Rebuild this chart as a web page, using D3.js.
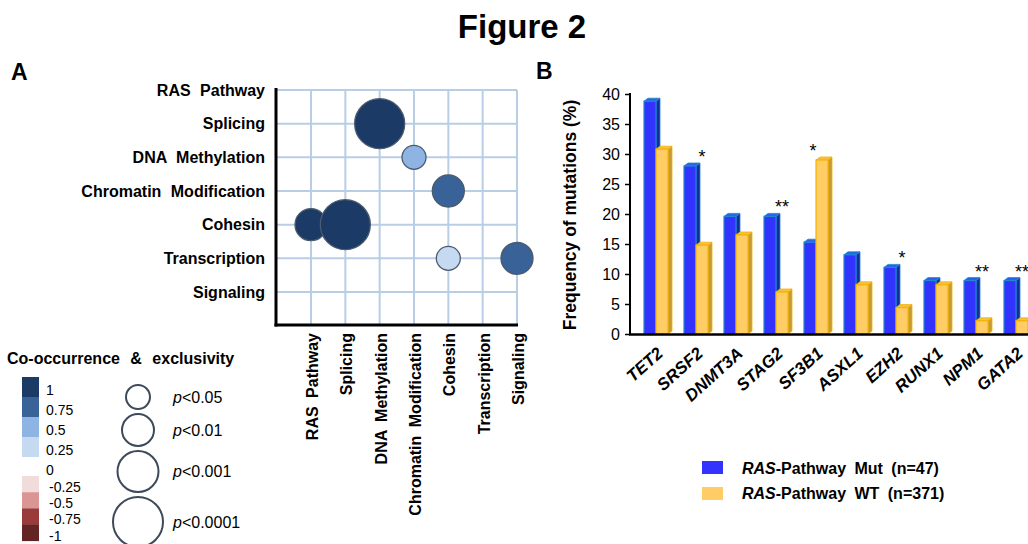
<!DOCTYPE html>
<html>
<head>
<meta charset="utf-8">
<script src="https://cdn.jsdelivr.net/npm/d3@7"></script>
<style>
  body { margin: 0; background: #fff; }
  svg { display: block; }
  text { font-family: "Liberation Sans", Arial, Helvetica, sans-serif; fill: #000; }
</style>
</head>
<body>
<svg id="fig" width="1028" height="544"></svg>
<script>
// ---------- Panel A: pathway co-occurrence / exclusivity ----------
const pathways = ["RAS Pathway", "Splicing", "DNA Methylation", "Chromatin Modification",
                  "Cohesin", "Transcription", "Signaling"];
const pairRow   = ["Splicing", "DNA Methylation", "Chromatin Modification", "Cohesin", "Cohesin", "Transcription", "Transcription"];
const pairCol   = ["DNA Methylation", "Chromatin Modification", "Cohesin", "RAS Pathway", "Splicing", "Cohesin", "Signaling"];
const pairScore = [1, 0.5, 0.75, 1, 1, 0.25, 0.75];
const pairP     = [0.0001, 0.05, 0.01, 0.01, 0.0001, 0.05, 0.01];

const scoreLevels = [1, 0.75, 0.5, 0.25, 0, -0.25, -0.5, -0.75, -1];
const scoreColors = ["#1b3a66", "#386298", "#8eb4e3", "#c5d9f1", "#ffffff",
                     "#f2dcdb", "#d99694", "#9b3a3a", "#632523"];
const pLevels = [0.05, 0.01, 0.001, 0.0001];
const pLabels = ["0.05", "0.01", "0.001", "0.0001"];

// ---------- Panel B: mutation frequencies by RAS-pathway status ----------
const genes   = ["TET2", "SRSF2", "DNMT3A", "STAG2", "SF3B1", "ASXL1", "EZH2", "RUNX1", "NPM1", "GATA2"];
const mutFreq = [38.8, 28.0, 19.6, 19.6, 15.3, 13.2, 11.1, 8.9, 8.9, 8.9];
const wtFreq  = [30.8, 14.8, 16.5, 7.0, 29.0, 8.2, 4.4, 8.2, 2.2, 2.2];
const sigGenes = ["SRSF2", "STAG2", "SF3B1", "EZH2", "NPM1", "GATA2"];
const sigMarks = ["*", "**", "*", "*", "**", "**"];
const yTicks = [0, 5, 10, 15, 20, 25, 30, 35, 40];
const seriesKeys = ["mut", "wt"];
const seriesLabels = ["Mut (n=47)", "WT (n=371)"];

const FONT = '"Liberation Sans", Arial, Helvetica, sans-serif';
const svg = d3.select("#fig");

// Figure title and panel letters
svg.append("text").attr("x", 522).attr("y", 38).attr("text-anchor", "middle")
  .style("font-size", "33px").style("font-weight", "bold").text("Figure 2");
svg.append("text").attr("x", 11).attr("y", 80)
  .style("font-size", "23px").style("font-weight", "bold").text("A");
svg.append("text").attr("x", 536).attr("y", 79)
  .style("font-size", "23px").style("font-weight", "bold").text("B");

// ===== Panel A =====
const gA = svg.append("g");
const axL = 276, axB = 325;
const xA = d3.scalePoint().domain(pathways).range([311, 517]);
const yA = d3.scalePoint().domain(pathways).range([90, 292]);
const colorA = d3.scaleOrdinal().domain(scoreLevels).range(scoreColors);
const rA = d3.scaleOrdinal().domain(pLevels).range([12, 16, 20.5, 25]);

// grid
const gridColor = "#b9cde5";
gA.selectAll("line.v").data(pathways).join("line").attr("class", "v")
  .attr("x1", d => xA(d)).attr("x2", d => xA(d)).attr("y1", 90).attr("y2", axB)
  .attr("stroke", gridColor).attr("stroke-width", 2);
gA.selectAll("line.h").data(pathways).join("line").attr("class", "h")
  .attr("y1", d => yA(d)).attr("y2", d => yA(d)).attr("x1", axL).attr("x2", 517)
  .attr("stroke", gridColor).attr("stroke-width", 2);
// axes
gA.append("line").attr("x1", axL).attr("x2", axL).attr("y1", 88).attr("y2", axB + 1.5)
  .attr("stroke", "#000").attr("stroke-width", 3);
gA.append("line").attr("x1", axL - 1.5).attr("x2", 518).attr("y1", axB).attr("y2", axB)
  .attr("stroke", "#000").attr("stroke-width", 3);

// row labels
gA.selectAll("text.row").data(pathways).join("text").attr("class", "row")
  .attr("x", 265).attr("y", d => yA(d)).attr("dy", "0.36em").attr("text-anchor", "end")
  .style("font-size", "16px").style("font-weight", "bold").style("word-spacing", "5px")
  .text(d => d);
// column labels
gA.selectAll("text.col").data(pathways).join("text").attr("class", "col")
  .attr("transform", d => `translate(${xA(d) + 7},333) rotate(-90)`)
  .attr("text-anchor", "end")
  .style("font-size", "16px").style("font-weight", "bold").style("word-spacing", "4px")
  .text(d => d);

// bubbles
const pairs = pairRow.map((r, i) => ({ row: r, col: pairCol[i], score: pairScore[i], p: pairP[i] }));
gA.selectAll("circle.b").data(pairs).join("circle").attr("class", "b")
  .attr("cx", d => xA(d.col)).attr("cy", d => yA(d.row)).attr("r", d => rA(d.p))
  .attr("fill", d => colorA(d.score))
  .attr("stroke", "#4b5a6e").attr("stroke-width", 1.3);

// legend: colour key
svg.append("text").attr("x", 7).attr("y", 364)
  .style("font-size", "16px").style("font-weight", "bold").style("word-spacing", "6px")
  .text("Co-occurrence & exclusivity");
const swatchTop = (i) => i <= 4 ? 377 + i * 20 : 476 + (i - 5) * 16.2;
const swatchH = (i) => i <= 4 ? 20 : 16.2;
const gKey = svg.append("g");
gKey.selectAll("rect").data(scoreLevels).join("rect")
  .attr("x", 22).attr("width", 17)
  .attr("y", (d, i) => swatchTop(i)).attr("height", (d, i) => swatchH(i) + 0.3)
  .attr("fill", d => colorA(d));
gKey.selectAll("text").data(scoreLevels).join("text")
  .attr("x", d => d < 0 ? 49 : 46)
  .attr("y", (d, i) => swatchTop(i) + swatchH(i) / 2 + 3).attr("dy", "0.35em")
  .style("font-size", "14px").text(d => String(d));

// legend: significance circles
const gP = svg.append("g");
let cy = 385;
const pPos = pLevels.map((p, i) => { const r = rA(p); const c = cy + r; cy = c + r + 5; return { p, r, c, label: pLabels[i] }; });
gP.selectAll("circle").data(pPos).join("circle")
  .attr("cx", 138).attr("cy", d => d.c).attr("r", d => d.r)
  .attr("fill", "#fff").attr("stroke", "#3d4a5c").attr("stroke-width", 2);
const pt = gP.selectAll("text").data(pPos).join("text")
  .attr("x", 173).attr("y", d => d.c).attr("dy", "0.36em").style("font-size", "16px");
pt.append("tspan").style("font-style", "italic").text("p");
pt.append("tspan").text(d => "<" + d.label);

// ===== Panel B =====
const gB = svg.append("g");
const x0 = d3.scaleBand().domain(genes).range([630, 1042]).paddingInner(0.4).paddingOuter(0.35);
const x1 = d3.scaleBand().domain(seriesKeys).range([0, x0.bandwidth()]);
const yB = d3.scaleLinear().domain([0, 40]).range([334, 94]);

// y axis
const yAxis = d3.axisLeft(yB).tickValues(yTicks).tickSize(5).tickPadding(5);
const ya = gB.append("g").attr("transform", "translate(630,0)").call(yAxis);
ya.select(".domain").attr("stroke", "#000").attr("stroke-width", 2).attr("d", "M0,93V334");
ya.selectAll(".tick line").attr("stroke", "#000").attr("stroke-width", 1.5);
ya.selectAll(".tick text").style("font-size", "16px").style("font-family", FONT).attr("fill", "#000");

gB.append("text").attr("transform", "translate(576,215) rotate(-90)").attr("text-anchor", "middle")
  .style("font-size", "17.5px").style("font-weight", "bold").text("Frequency of mutations (%)");

// 3D-style bars
const styles = {
  mut: { front: "#3333ff", edge: "#1f86d4", side: "#1a2a9c", top: "#2a63e6" },
  wt:  { front: "#ffcc66", edge: "#f4b400", side: "#c49a3c", top: "#f9c040" }
};
const dx = 4, dy = 3;
const barData = [];
genes.forEach((g, i) => {
  barData.push({ gene: g, key: "mut", v: mutFreq[i] });
  barData.push({ gene: g, key: "wt", v: wtFreq[i] });
});
const bars = gB.selectAll("g.bar").data(barData).join("g").attr("class", "bar");
bars.each(function (d) {
  const s = styles[d.key];
  const bx = x0(d.gene) + x1(d.key), bw = x1.bandwidth();
  const yt = yB(d.v), yb = yB(0);
  const g = d3.select(this);
  g.append("polygon")
    .attr("points", [[bx + bw, yt], [bx + bw + dx, yt - dy], [bx + bw + dx, yb - dy], [bx + bw, yb]].join(" "))
    .attr("fill", s.side).attr("stroke", s.edge).attr("stroke-width", 0.8);
  g.append("polygon")
    .attr("points", [[bx, yt], [bx + dx, yt - dy], [bx + bw + dx, yt - dy], [bx + bw, yt]].join(" "))
    .attr("fill", s.top).attr("stroke", s.edge).attr("stroke-width", 0.8);
  g.append("rect").attr("x", bx).attr("y", yt).attr("width", bw).attr("height", yb - yt)
    .attr("fill", s.front).attr("stroke", s.edge).attr("stroke-width", 1.2);
});

// x axis
gB.append("line").attr("x1", 629).attr("x2", 1028).attr("y1", 334.5).attr("y2", 334.5)
  .attr("stroke", "#000").attr("stroke-width", 2.5);
gB.selectAll("text.gene").data(genes).join("text").attr("class", "gene")
  .attr("transform", d => `translate(${x0(d) + 20},355) rotate(-42)`)
  .attr("text-anchor", "end")
  .style("font-size", "17px").style("font-weight", "bold").style("font-style", "italic")
  .text(d => d);

// significance marks
gB.selectAll("text.sig").data(sigGenes).join("text").attr("class", "sig")
  .attr("x", (d, i) => {
    const gi = genes.indexOf(d);
    return x0(d) + (wtFreq[gi] > mutFreq[gi] ? 9 : 18);
  })
  .attr("y", (d) => {
    const gi = genes.indexOf(d);
    return yB(Math.max(mutFreq[gi], wtFreq[gi])) - 3;
  })
  .attr("text-anchor", "middle").style("font-size", "18px").text((d, i) => sigMarks[i]);

// legend
const gL = svg.append("g");
const legColors = [styles.mut.front, styles.wt.front];
gL.selectAll("rect").data(seriesKeys).join("rect")
  .attr("x", 702).attr("y", (d, i) => 461 + i * 26).attr("width", 21).attr("height", 13)
  .attr("fill", (d, i) => legColors[i]);
const lt = gL.selectAll("text").data(seriesLabels).join("text")
  .attr("x", 742).attr("y", (d, i) => 468 + i * 25).attr("dy", "0.36em")
  .style("font-size", "16px").style("font-weight", "bold").style("word-spacing", "4px");
lt.append("tspan").style("font-style", "italic").text("RAS");
lt.append("tspan").text(d => "-Pathway " + d);
</script>
</body>
</html>
